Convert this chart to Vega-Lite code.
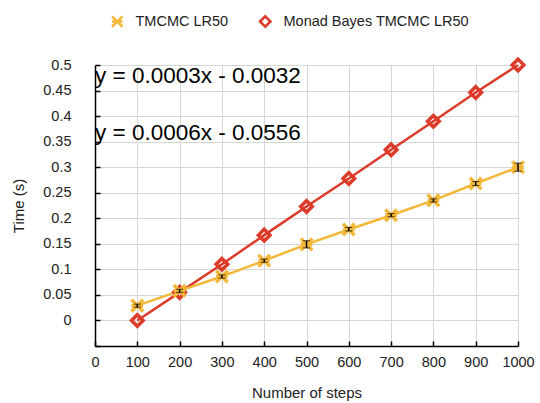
{
  "$schema": "https://vega.github.io/schema/vega-lite/v6.json",
  "autosize": "none",
  "width": 423,
  "height": 281,
  "padding": {"left": 95, "top": 65, "right": 22, "bottom": 57},
  "background": "white",
  "config": {
    "font": "Liberation Sans",
    "view": {"stroke": null},
    "axis": {
      "domainColor": "#000000",
      "domainWidth": 1.5,
      "tickColor": "#000000",
      "tickWidth": 1.5,
      "tickSize": -5,
      "gridColor": "#d6d6d6",
      "gridWidth": 1,
      "labelColor": "#222222",
      "labelFontSize": 14.5,
      "labelFont": "Liberation Sans",
      "labelOverlap": false,
      "labelFlush": false,
      "titleFont": "Liberation Sans",
      "titleFontSize": 15,
      "titleFontWeight": "normal",
      "titleColor": "#222222"
    }
  },
  "datasets": {
    "series": [
      {"series": "Monad Bayes TMCMC LR50", "steps": 100, "time": 0.0},
      {"series": "Monad Bayes TMCMC LR50", "steps": 200, "time": 0.055},
      {"series": "Monad Bayes TMCMC LR50", "steps": 300, "time": 0.11},
      {"series": "Monad Bayes TMCMC LR50", "steps": 400, "time": 0.167},
      {"series": "Monad Bayes TMCMC LR50", "steps": 500, "time": 0.223},
      {"series": "Monad Bayes TMCMC LR50", "steps": 600, "time": 0.278},
      {"series": "Monad Bayes TMCMC LR50", "steps": 700, "time": 0.334},
      {"series": "Monad Bayes TMCMC LR50", "steps": 800, "time": 0.39},
      {"series": "Monad Bayes TMCMC LR50", "steps": 900, "time": 0.446},
      {"series": "Monad Bayes TMCMC LR50", "steps": 1000, "time": 0.5},
      {"series": "TMCMC LR50", "steps": 100, "time": 0.029, "lo": 0.026, "hi": 0.032},
      {"series": "TMCMC LR50", "steps": 200, "time": 0.058, "lo": 0.055, "hi": 0.061},
      {"series": "TMCMC LR50", "steps": 300, "time": 0.086, "lo": 0.083, "hi": 0.089},
      {"series": "TMCMC LR50", "steps": 400, "time": 0.117, "lo": 0.114, "hi": 0.12},
      {"series": "TMCMC LR50", "steps": 500, "time": 0.149, "lo": 0.142, "hi": 0.156},
      {"series": "TMCMC LR50", "steps": 600, "time": 0.178, "lo": 0.175, "hi": 0.182},
      {"series": "TMCMC LR50", "steps": 700, "time": 0.206, "lo": 0.203, "hi": 0.209},
      {"series": "TMCMC LR50", "steps": 800, "time": 0.235, "lo": 0.232, "hi": 0.238},
      {"series": "TMCMC LR50", "steps": 900, "time": 0.268, "lo": 0.264, "hi": 0.272},
      {"series": "TMCMC LR50", "steps": 1000, "time": 0.3, "lo": 0.292, "hi": 0.308}
    ],
    "labels": [
      {"steps": 0, "time": 0.478, "text": "y = 0.0003x - 0.0032"},
      {"steps": 0, "time": 0.367, "text": "y = 0.0006x - 0.0556"}
    ]
  },
  "layer": [
    {
      "data": {"name": "series"},
      "mark": {"type": "line", "strokeWidth": 2.5},
      "encoding": {
        "x": {
          "field": "steps", "type": "quantitative", "title": "Number of steps",
          "scale": {"domain": [0, 1000], "nice": false},
          "axis": {"values": [0,100,200,300,400,500,600,700,800,900,1000], "tickCount": 11, "format": "d", "labelPadding": 14, "titlePadding": 17}
        },
        "y": {
          "field": "time", "type": "quantitative", "title": "Time (s)",
          "scale": {"domain": [-0.05, 0.5], "nice": false, "zero": false},
          "axis": {
            "values": [-0.05, 0, 0.05, 0.1, 0.15, 0.2, 0.25, 0.3, 0.35, 0.4, 0.45, 0.5],
            "tickCount": 12,
            "labelExpr": "datum.value < -0.01 ? '' : format(datum.value, '~g')",
            "labelPadding": 29, "titlePadding": 16
          }
        },
        "color": {
          "field": "series", "type": "nominal",
          "scale": {"domain": ["TMCMC LR50", "Monad Bayes TMCMC LR50"], "range": ["#f3b73a", "#dc3b2a"]}
        },
        "order": {"field": "steps"}
      }
    },
    {
      "data": {"name": "series"},
      "mark": {"type": "point", "filled": false, "strokeWidth": 3.5, "size": 135, "opacity": 1},
      "encoding": {
        "x": {"field": "steps", "type": "quantitative", "title": "Number of steps"},
        "y": {"field": "time", "type": "quantitative", "title": "Time (s)"},
        "color": {
          "field": "series", "type": "nominal",
          "legend": {
            "title": null, "orient": "none", "direction": "horizontal",
            "legendX": 15, "legendY": -51,
            "labelFontSize": 14.5, "labelColor": "#222222", "labelFont": "Liberation Sans", "labelLimit": 400,
            "symbolSize": 110, "symbolStrokeWidth": 2.5, "columnPadding": 26, "labelOffset": 11
          }
        },
        "shape": {
          "field": "series", "type": "nominal",
          "scale": {"domain": ["TMCMC LR50", "Monad Bayes TMCMC LR50"], "range": ["M-1,-1L1,1M-1,1L1,-1M-1,0L1,0", "diamond"]}
        }
      }
    },
    {
      "data": {"name": "series"},
      "transform": [{"filter": "isValid(datum.lo)"}],
      "mark": {"type": "errorbar", "ticks": {"size": 7, "color": "#000000", "strokeWidth": 1.5}, "rule": {"color": "#000000", "strokeWidth": 1.5}},
      "encoding": {
        "x": {"field": "steps", "type": "quantitative", "title": "Number of steps"},
        "y": {"field": "lo", "type": "quantitative", "title": "Time (s)"},
        "y2": {"field": "hi"}
      }
    },
    {
      "data": {"name": "labels"},
      "mark": {"type": "text", "align": "left", "baseline": "middle", "fontSize": 22.5, "font": "Liberation Sans", "color": "#000000"},
      "encoding": {
        "x": {"field": "steps", "type": "quantitative", "title": "Number of steps"},
        "y": {"field": "time", "type": "quantitative", "title": "Time (s)"},
        "text": {"field": "text"}
      }
    }
  ]
}
